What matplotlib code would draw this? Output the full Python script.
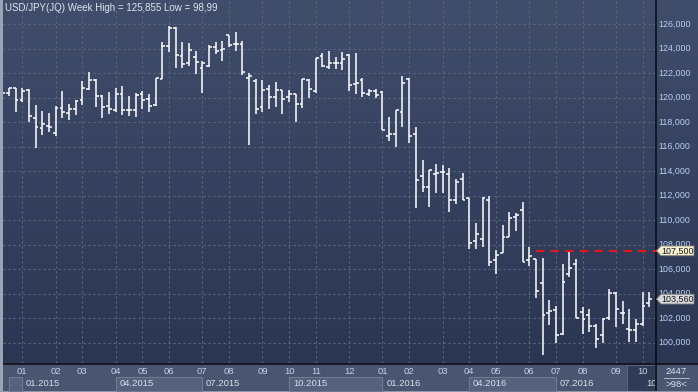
import numpy as np
import matplotlib
matplotlib.use("Agg")
from matplotlib import pyplot as plt
from matplotlib.patches import Rectangle, Polygon
from matplotlib.transforms import blended_transform_factory

# weekly OHLC bars, USD/JPY, mid Dec 2014 .. Oct 2016
opens = [120.50, 120.38, 120.76, 119.78, 120.59, 118.31, 117.49, 117.68, 117.14, 119.13,
         118.72, 119.10, 119.78, 120.70, 121.43, 120.16, 119.29, 118.96, 120.27, 118.99,
         118.96, 120.27, 119.89, 119.40, 121.54, 124.21, 125.67, 123.39, 122.79, 123.28,
         122.39, 122.55, 124.10, 123.85, 125.08, 124.34, 124.34, 121.57, 121.35, 119.21,
         120.67, 120.05, 120.59, 120.02, 120.27, 119.45, 121.43, 120.54, 123.39, 122.47,
         122.85, 122.79, 123.50, 121.08, 121.43, 120.29, 120.54, 120.43, 116.87, 117.01,
         118.80, 121.49, 117.01, 113.58, 112.71, 113.74, 113.91, 113.74, 111.62, 113.39,
         111.79, 108.28, 108.45, 111.62, 106.76, 107.30, 108.61, 110.24, 110.84, 106.76,
         106.84, 104.86, 102.41, 102.68, 100.73, 105.59, 106.46, 102.49, 102.25, 101.38,
         100.65, 102.03, 104.10, 102.39, 101.14, 101.05, 101.52, 103.23]
highs = [120.60, 120.81, 120.76, 120.76, 120.67, 119.40, 118.91, 118.74, 119.32, 120.54,
         119.45, 119.80, 121.35, 122.06, 121.54, 120.21, 120.43, 120.78, 120.92, 120.10,
         120.38, 120.54, 120.29, 121.57, 124.51, 125.855, 125.73, 124.51, 124.42, 123.80,
         122.98, 124.26, 124.51, 124.64, 125.10, 125.32, 124.61, 121.98, 121.49, 121.43,
         121.00, 121.27, 120.62, 120.62, 120.27, 121.49, 121.52, 123.26, 123.61, 123.80,
         123.34, 123.72, 123.58, 123.64, 121.57, 120.67, 120.67, 120.54, 118.39, 118.99,
         121.76, 121.57, 117.58, 114.91, 114.07, 114.59, 114.51, 114.26, 113.36, 113.85,
         111.84, 109.78, 111.90, 111.98, 107.58, 109.61, 110.67, 110.57, 111.49, 107.85,
         106.84, 106.92, 103.50, 102.96, 106.43, 107.52, 106.82, 102.90, 102.77, 101.52,
         101.98, 104.40, 104.12, 103.42, 102.77, 101.95, 104.18, 104.15]
lows = [120.20, 120.16, 118.85, 119.67, 118.04, 115.86, 116.95, 117.22, 116.87, 118.36,
        118.17, 118.58, 119.40, 120.62, 119.23, 118.36, 118.69, 118.80, 118.61, 118.53,
        118.45, 119.07, 118.85, 119.32, 121.49, 123.74, 122.44, 122.44, 122.60, 121.95,
        120.40, 122.49, 123.58, 123.01, 124.10, 123.83, 121.84, 116.16, 118.64, 118.85,
        119.07, 119.26, 118.69, 119.67, 118.04, 119.18, 119.99, 120.35, 122.47, 122.30,
        122.30, 122.25, 120.57, 120.32, 120.05, 120.16, 119.99, 117.36, 116.49, 116.00,
        117.63, 116.33, 111.03, 112.33, 111.11, 112.20, 112.25, 110.70, 111.30, 111.62,
        107.68, 107.68, 107.85, 106.30, 105.57, 107.30, 108.61, 109.15, 106.57, 106.30,
        103.64, 98.99, 101.41, 100.02, 100.62, 105.35, 102.06, 100.73, 100.84, 99.61,
        100.02, 101.84, 101.27, 101.54, 100.08, 100.08, 101.38, 102.90]
closes = [120.38, 120.76, 119.78, 120.54, 118.53, 117.58, 117.82, 117.58, 119.13, 118.80,
          119.04, 119.75, 120.81, 121.41, 120.10, 119.21, 119.04, 120.27, 118.96, 118.99,
          120.18, 119.78, 119.29, 121.57, 124.21, 125.67, 123.45, 122.74, 123.85, 122.88,
          122.82, 124.10, 123.83, 123.93, 124.26, 124.34, 122.06, 121.73, 119.04, 120.59,
          120.05, 120.59, 119.91, 120.27, 119.45, 121.49, 120.67, 123.20, 122.60, 122.85,
          122.79, 123.12, 121.00, 121.19, 120.35, 120.57, 120.18, 117.36, 117.01, 118.96,
          121.16, 116.90, 113.26, 112.71, 114.07, 113.83, 113.91, 111.62, 113.09, 111.68,
          108.15, 108.85, 111.84, 106.57, 107.20, 108.66, 110.16, 110.40, 106.57, 107.06,
          104.23, 102.30, 102.60, 100.65, 104.94, 106.08, 102.06, 101.95, 101.38, 100.29,
          101.92, 104.10, 102.74, 102.39, 101.08, 101.52, 103.04, 103.56]

# first bar of each month and its label
month_bars = [3, 8, 12, 17, 21, 25, 30, 34, 39, 43, 47, 52, 57, 61, 66, 70, 74, 79, 83, 87, 92, 96]
month_labels = ["01", "02", "03", "04", "05", "06", "07", "08", "09", "10", "11", "12",
                "01", "02", "03", "04", "05", "06", "07", "08", "09", "10"]
quarter_bars = [3, 17, 30, 43, 57, 70, 83, 96]
quarter_labels = ["01.2015", "04.2015", "07.2015", "10.2015", "01.2016", "04.2016", "07.2016", "10.2016"]

y_ticks = [100, 102, 104, 106, 108, 110, 112, 114, 116, 118, 120, 122, 124, 126]
level = 107.5
last = closes[-1]
level_from = 80

W, H = 698, 392
plt.rcParams['font.family'] = ['Liberation Sans', 'DejaVu Sans']

fig = plt.figure(figsize=(W / 100, H / 100), dpi=100)
bg = fig.add_axes([0, 0, 1, 1])
bg.set_xlim(0, W)
bg.set_ylim(H, 0)
bg.axis("off")

# gradient background for plot + right scale
grad = np.linspace(0, 1, 256).reshape(-1, 1)
top = np.array([0x40, 0x4d, 0x6b]) / 255
bot = np.array([0x2a, 0x36, 0x52]) / 255
img = top + (bot - top) * grad[:, :, None]
bg.imshow(img, extent=[0, W, 363, 0], aspect="auto", zorder=0)

# bottom band
bg.add_patch(Rectangle((0, 363), W, H - 363, facecolor="#4a5671", edgecolor="none", zorder=1))
bg.plot([0, W], [363.5, 363.5], color="#0d0f14", lw=1.2, zorder=5)
bg.plot([655.5, 655.5], [0, H], color="#0d0f14", lw=1.2, zorder=5)
bg.add_patch(Rectangle((0, 0), 2.5, H, facecolor="#9aa4b4", edgecolor="none", zorder=6))
bg.add_patch(Rectangle((0, H - 1.5), W, 1.5, facecolor="#8e98aa", edgecolor="none", zorder=6))

ax = fig.add_axes([3 / W, (H - 363) / H, (655 - 3) / W, 363 / H])
ax.set_facecolor("none")
ax.set_xlim(0.1, 97.86)
ax.set_ylim(98.35, 127.96)
for s in ax.spines.values():
    s.set_visible(False)
ax.set_xticks([])
ax.set_yticks([])

grid_c = "#5a6682"
for v in y_ticks:
    ax.axhline(v, color=grid_c, lw=0.8, ls=(0, (2, 2.5)), zorder=1)
for b in month_bars:
    ax.axvline(b, color=grid_c, lw=0.8, ls=(0, (2, 2.5)), zorder=1)

x = np.arange(len(opens))
tk = 0.42
ax.vlines(x, lows, highs, color="white", lw=1.1, zorder=3, capstyle="butt")
ax.hlines(opens, x - tk, x, color="white", lw=1.1, zorder=3)
ax.hlines(closes, x, x + tk, color="white", lw=1.1, zorder=3)

ax.plot([level_from, 97.86], [level, level], color="#e8161a", lw=1.5, ls=(0, (4, 3)), zorder=4)

ax.text(0.4, 127.3, "USD/JPY(JQ) Week High = 125,855 Low = 98,99", color="#dfe5ef",
        fontsize=7, va="center", ha="left", zorder=5)

# right scale labels
ry = blended_transform_factory(bg.transData, ax.transData)
for v in y_ticks:
    ax.text(658, v, f"{v},000", transform=ry, color="#b9cfee", fontsize=6.4, va="center", ha="left")


def tag(v, face, text):
    half = 0.4
    poly = Polygon([[656.5, v], [661, v + half], [694, v + half], [694, v - half], [661, v - half]],
                   closed=True, transform=ry, facecolor=face, edgecolor="#7a7a7a", lw=0.6,
                   zorder=8, clip_on=False)
    ax.add_patch(poly)
    ax.text(677.5, v, text, transform=ry, color="#1a1a1a", fontsize=6.4, va="center", ha="center",
            zorder=9)


bg.plot([655, 657], [250.5, 250.5], color="#e8161a", lw=1.5, zorder=7)
tag(level, "#f3efcf", f"{level:.3f}".replace(".", ","))
tag(last, "#d6d8dc", f"{last:.3f}".replace(".", ","))

# bottom axis: month and quarter rows
bx = blended_transform_factory(ax.transData, bg.transData)
for i, (b, q) in enumerate(zip(quarter_bars, quarter_labels)):
    if i % 2 == 1 and i < len(quarter_bars) - 1:
        ax.add_patch(Rectangle((b, 377), quarter_bars[i + 1] - b, 14, transform=bx,
                               facecolor="#56627d", edgecolor="#6e7a94", lw=0.8,
                               clip_on=False, zorder=2))
ax.add_patch(Rectangle((1, 377), 2, 14, transform=bx, facecolor="#56627d",
                       edgecolor="#6e7a94", lw=0.8, clip_on=False, zorder=2))
bg.add_patch(Rectangle((627, 365), 28, 27, facecolor="#2f3b57", edgecolor="#56627d", lw=0.8, zorder=3))

clip_box = Rectangle((0, 0), 655, H, transform=bg.transData, facecolor="none", edgecolor="none")
for b, m in zip(month_bars, month_labels):
    ax.text(b, 371.5, m, transform=bx, color="#c2d0e6", fontsize=6.8, ha="center", va="center",
            clip_on=False, zorder=6)
for b, q in zip(quarter_bars, quarter_labels):
    t = ax.text(b + 0.55, 383.5, q, transform=bx, color="#d6deea", fontsize=6.8, ha="left",
                va="center", zorder=6)
    t.set_clip_on(True)
    t.set_clip_path(clip_box)

bg.text(676, 371, "2447", color="#d6deea", fontsize=6.8, ha="center", va="center", zorder=6)
bg.plot([664, 689], [378, 378], color="#c0c8d6", lw=0.6, zorder=6)
bg.text(676, 384.5, ">98<", color="#d6deea", fontsize=6.8, ha="center", va="center", zorder=6)

fig.savefig("out.png", dpi=100)
